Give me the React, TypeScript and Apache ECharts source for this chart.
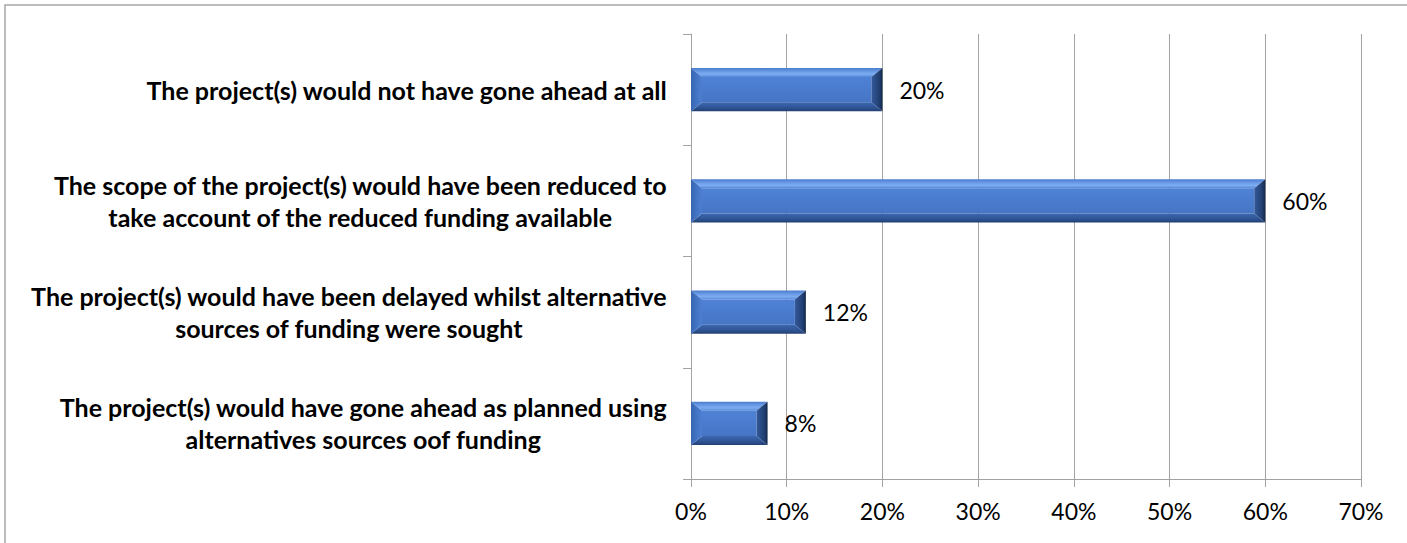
import React, { useEffect, useRef } from 'react';
import * as echarts from 'echarts';

const categories: string[] = [
  'The project(s) would not have gone ahead at all',
  'The scope of the project(s) would have been reduced to\ntake account of the reduced funding available',
  'The project(s) would have been delayed whilst alternative\nsources of funding were sought',
  'The project(s) would have gone ahead as planned using\nalternatives sources oof funding',
];
const values: number[] = [20, 60, 12, 8];
const xMin = 0;
const xMax = 70;
const xInterval = 10;

const FONT = 'Lato, "Open Sans", sans-serif';
const GRID_COLOR = '#a3a3a3';

export default function App() {
  const ref = useRef<HTMLDivElement>(null);

  useEffect(() => {
    if (!ref.current) return;
    const chart = echarts.init(ref.current, undefined, { renderer: 'svg' });

    const renderItem = (params: any, api: any) => {
      const ci = api.value(0);
      const v = api.value(1);
      const p0 = api.coord([0, ci]);
      const p1 = api.coord([v, ci]);
      const bandH = api.size([0, 1])[1];
      const h = bandH * 0.39;
      const x0 = p0[0];
      const x1 = p1[0];
      const yc = p0[1];
      const y0 = yc - h / 2;
      const y1 = yc + h / 2;
      const b = 11; // side bevel
      const bt = 9; // top bevel
      const bb = 9; // bottom bevel
      const L = echarts.graphic.LinearGradient;
      return {
        type: 'group',
        children: [
          {
            type: 'rect',
            shape: { x: x0 + b, y: y0 + bt, width: x1 - x0 - 2 * b, height: y1 - y0 - bt - bb },
            style: {
              fill: new L(0, 0, 0, 1, [
                { offset: 0, color: '#4f82d6' },
                { offset: 0.5, color: '#4a7bcd' },
                { offset: 1, color: '#4675c4' },
              ]),
            },
          },
          {
            type: 'polygon',
            shape: { points: [[x0, y0], [x1, y0], [x1 - b, y0 + bt], [x0 + b, y0 + bt]] },
            style: {
              fill: new L(0, 0, 0, 1, [
                { offset: 0, color: '#4a7bcc' },
                { offset: 0.45, color: '#6d9fe9' },
                { offset: 0.7, color: '#7cadf2' },
                { offset: 1, color: '#5587d8' },
              ]),
            },
          },
          {
            type: 'polygon',
            shape: { points: [[x0, y1], [x1, y1], [x1 - b, y1 - bb], [x0 + b, y1 - bb]] },
            style: {
              fill: new L(0, 0, 0, 1, [
                { offset: 0, color: '#3c68b0' },
                { offset: 0.6, color: '#2f5494' },
                { offset: 1, color: '#223f72' },
              ]),
            },
          },
          {
            type: 'polygon',
            shape: { points: [[x0, y0], [x0 + b, y0 + bt], [x0 + b, y1 - bb], [x0, y1]] },
            style: {
              fill: new L(0, 0, 1, 0, [
                { offset: 0, color: '#3866b2' },
                { offset: 1, color: '#4d7fd2' },
              ]),
            },
          },
          {
            type: 'polygon',
            shape: { points: [[x1, y0], [x1 - b, y0 + bt], [x1 - b, y1 - bb], [x1, y1]] },
            style: {
              fill: new L(0, 0, 1, 0, [
                { offset: 0, color: '#34599a' },
                { offset: 0.7, color: '#213f72' },
                { offset: 1, color: '#142849' },
              ]),
            },
          },
          {
            type: 'text',
            x: x1 + 17,
            y: yc,
            style: {
              text: v + '%',
              fill: '#000',
              fontSize: 23,
              fontFamily: FONT,
              align: 'left',
              verticalAlign: 'middle',
            },
          },
        ],
      };
    };

    const rich: any = {
      c: {
        align: 'center',
        fontSize: 25,
        fontWeight: 'bold',
        fontFamily: FONT,
        color: '#000',
        lineHeight: 32,
      },
    };

    chart.setOption({
      animation: false,
      grid: { left: 691, right: 46, top: 34, bottom: 64, containLabel: false },
      graphic: [
        {
          type: 'rect',
          x: 5,
          y: 5,
          shape: { width: 1420, height: 560 },
          style: { fill: 'none', stroke: '#a6a6a6', lineWidth: 1.5 },
          z: -10,
          silent: true,
        },
      ],
      xAxis: {
        type: 'value',
        min: xMin,
        max: xMax,
        interval: xInterval,
        axisLine: { show: true, lineStyle: { color: GRID_COLOR, width: 1 } },
        axisTick: { show: true, length: 8, lineStyle: { color: GRID_COLOR } },
        splitLine: { show: true, lineStyle: { color: GRID_COLOR, width: 1 } },
        axisLabel: {
          formatter: '{value}%',
          fontSize: 23,
          fontFamily: FONT,
          color: '#000',
          margin: 20,
        },
      },
      yAxis: {
        type: 'category',
        inverse: true,
        data: categories,
        axisLine: { show: true, lineStyle: { color: GRID_COLOR, width: 1 } },
        axisTick: { show: true, length: 8, alignWithLabel: false, lineStyle: { color: GRID_COLOR } },
        splitLine: { show: false },
        axisLabel: {
          margin: 24,
          interval: 0,
          align: 'right',
          fontSize: 25,
          fontWeight: 'bold',
          fontFamily: FONT,
          color: '#000',
          lineHeight: 32,
          formatter: (val: string) =>
            val
              .split('\n')
              .map((l) => `{c|${l}}`)
              .join('\n'),
          rich,
        },
      },
      series: [
        {
          type: 'custom',
          renderItem,
          encode: { x: 1, y: 0 },
          data: values.map((v, i) => [i, v]),
          clip: false,
        },
      ],
    });

    return () => {
      chart.dispose();
    };
  }, []);

  return (
    <div
      ref={ref}
      style={{ position: 'absolute', left: 0, top: 0, width: 1407, height: 543, background: '#fff' }}
    />
  );
}
